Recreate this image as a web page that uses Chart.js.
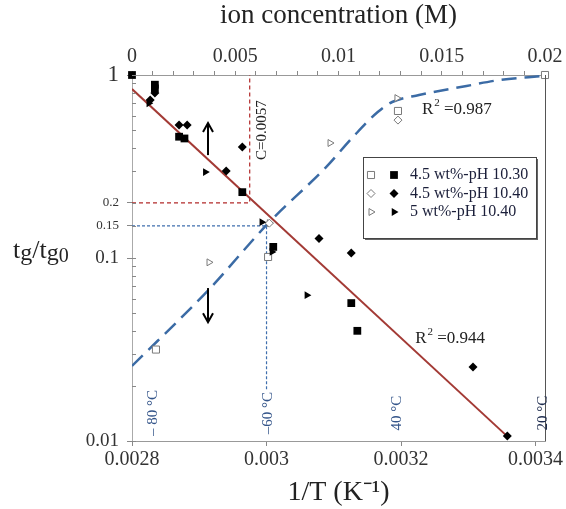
<!DOCTYPE html>
<html>
<head>
<meta charset="utf-8">
<script src="https://cdn.jsdelivr.net/npm/chart.js@4.4.0/dist/chart.umd.min.js"></script>
<style>
html, body { margin: 0; padding: 0; background: #fff; }
#wrap { width: 566px; height: 509px; }
</style>
</head>
<body>
<div id="wrap"><canvas id="chart-tg" width="566" height="509"></canvas></div>
<script>
'use strict';

// filled symbols: tg/tg0 against 1/T (bottom axis)
const invT_1030 = [0.0028, 0.002834, 0.002834, 0.00287, 0.002878, 0.002964, 0.00301, 0.003126, 0.003135];
const ratio_1030 = [1.0, 0.885, 0.845, 0.46, 0.45, 0.229, 0.115, 0.0567, 0.040];
const invT_1040 = [0.002834, 0.002827, 0.00287, 0.002882, 0.002964, 0.00294, 0.003078, 0.003126, 0.003307, 0.003358];
const ratio_1040 = [0.797, 0.73, 0.533, 0.533, 0.404, 0.299, 0.128, 0.1066, 0.0254, 0.01064];
const invT_5wt = [0.002825, 0.002909, 0.002993, 0.003008, 0.00306];
const ratio_5wt = [0.70, 0.295, 0.157, 0.108, 0.0626];

// open symbols: tg/tg0 against ion concentration (top axis)
const conc_1030 = [0.00116, 0.00659, 0.01288, 0.02];
const cRatio_1030 = [0.0316, 0.1013, 0.636, 1.0];
const conc_1040 = [0.00665, 0.01288, 0.02];
const cRatio_1040 = [0.155, 0.567, 1.0];
const conc_5wt = [0.00373, 0.00959, 0.01283, 0.00665, 0.02];
const cRatio_5wt = [0.0947, 0.425, 0.748, 0.155, 1.0];

// fitted curves
const fitInvT = [0.0028, 0.003358];
const fitInvTRatio = [0.838, 0.0106];
const fitConc = [0, 0.0037, 0.0066, 0.0094, 0.0107, 0.0119, 0.0126, 0.0139, 0.0162, 0.0178, 0.0199];
const fitConcRatio = [0.0257, 0.0668, 0.155, 0.314, 0.458, 0.628, 0.712, 0.777, 0.871, 0.939, 0.988];

// critical values marked with guide lines
const critConc = 0.0057;
const critConcRatio = 0.2;
const critInvT = 0.003;
const critInvTRatio = 0.15;

// arrows (1/T, from, to)
const arrowInvT = [0.002913, 0.002913];
const arrowFrom = [0.365, 0.0685];
const arrowTo = [0.547, 0.0446];

// axis ticks
const invTTicks = [0.0028, 0.003, 0.0032, 0.0034];
const invTTickLabels = ['0.0028', '0.003', '0.0032', '0.0034'];
const concTicks = [0, 0.005, 0.01, 0.015, 0.02];
const concTickLabels = ['0', '0.005', '0.01', '0.015', '0.02'];
const ratioTicks = [0.01, 0.1, 0.15, 0.2, 1];
const ratioTickLabels = ['0.01', '0.1', '0.15', '0.2', '1'];

// temperature marks on the 1/T axis
const tempC = [80, 60, 40, 20];
const tempLabels = ['– 80 °C', '–60 °C', '40 °C', '20 °C'];

const legendLabels = ['4.5 wt%-pH 10.30', '4.5 wt%-pH 10.40', '5 wt%-pH 10.40'];
const legendStyles = ['rect', 'rectRot', 'triangle'];

const serif = "'Liberation Serif', 'Times New Roman', serif";

function pts(xs, ys) {
    return xs.map((v, i) => ({ x: v, y: ys[i] }));
}

function filled(label, xs, ys, style, radius) {
    return {
        label, data: pts(xs, ys), xAxisID: 'x', yAxisID: 'y', clip: false,
        pointStyle: style, pointRadius: radius, pointRotation: style === 'triangle' ? 90 : 0,
        backgroundColor: '#000', borderColor: '#000', borderWidth: 0, showLine: false
    };
}

function open(label, xs, ys, style, radius) {
    return {
        label, data: pts(xs, ys), xAxisID: 'x2', yAxisID: 'y', clip: false,
        pointStyle: style, pointRadius: radius, pointRotation: style === 'triangle' ? 90 : 0,
        backgroundColor: '#fff', borderColor: '#7a7a7a', borderWidth: 1, showLine: false
    };
}

function drawArrow(ctx, x, y0, y1) {
    const dir = y1 < y0 ? -1 : 1;
    ctx.beginPath();
    ctx.moveTo(x, y0);
    ctx.lineTo(x, y1 - dir * 2);
    ctx.stroke();
    ctx.beginPath();
    ctx.moveTo(x - 5, y1 - dir * 9);
    ctx.lineTo(x, y1);
    ctx.lineTo(x + 5, y1 - dir * 9);
    ctx.stroke();
}

function drawR2(ctx, x, y, value) {
    ctx.textAlign = 'left';
    ctx.textBaseline = 'alphabetic';
    ctx.font = '17px ' + serif;
    ctx.fillText('R', x, y);
    let w = ctx.measureText('R').width;
    ctx.font = '11px ' + serif;
    ctx.fillText('2', x + w + 1, y - 8);
    w += 1 + ctx.measureText('2').width;
    ctx.font = '17px ' + serif;
    ctx.fillText(' =' + value, x + w, y);
}

const overlayPlugin = {
    id: 'overlay',
    beforeDatasetsDraw(chart) {
        const { ctx, chartArea: a, scales: { x, x2, y } } = chart;
        ctx.save();
        ctx.lineWidth = 1.2;

        // critical concentration guide (red)
        ctx.strokeStyle = '#b22a2a';
        ctx.setLineDash([4, 3]);
        const cx = x2.getPixelForValue(critConc);
        const cy = y.getPixelForValue(critConcRatio);
        ctx.beginPath();
        ctx.moveTo(a.left, cy);
        ctx.lineTo(cx, cy);
        ctx.lineTo(cx, a.top);
        ctx.stroke();

        // critical temperature guide (blue)
        ctx.strokeStyle = '#3f6fae';
        ctx.setLineDash([3, 2]);
        const tx = x.getPixelForValue(critInvT);
        const ty = y.getPixelForValue(critInvTRatio);
        ctx.beginPath();
        ctx.moveTo(a.left, ty);
        ctx.lineTo(tx, ty);
        ctx.lineTo(tx, a.bottom - 50);
        ctx.stroke();
        ctx.restore();
    },
    afterDatasetsDraw(chart) {
        const { ctx, chartArea: a, scales: { x, x2, y } } = chart;
        ctx.save();

        // right frame line
        ctx.strokeStyle = '#555';
        ctx.lineWidth = 1;
        ctx.beginPath();
        ctx.moveTo(a.right + 0.5, a.top);
        ctx.lineTo(a.right + 0.5, a.bottom);
        ctx.stroke();

        // inner tick marks on the log axis
        ctx.strokeStyle = '#888';
        y.ticks.forEach(t => {
            const py = Math.round(y.getPixelForValue(t.value)) + 0.5;
            ctx.beginPath();
            ctx.moveTo(a.left, py);
            ctx.lineTo(a.left + 4, py);
            ctx.stroke();
        });

        // arrows
        ctx.strokeStyle = '#000';
        ctx.lineWidth = 2;
        arrowInvT.forEach((v, i) => {
            drawArrow(ctx, x.getPixelForValue(v), y.getPixelForValue(arrowFrom[i]), y.getPixelForValue(arrowTo[i]));
        });

        // R^2 labels
        ctx.fillStyle = '#222';
        drawR2(ctx, x2.getPixelForValue(0.01404), y.getPixelForValue(0.66) + 6, '0.987');
        drawR2(ctx, x.getPixelForValue(0.003221), y.getPixelForValue(0.037) + 6, '0.944');

        // C=0.0057 label
        ctx.save();
        ctx.translate(x2.getPixelForValue(critConc) + 12, y.getPixelForValue(0.5));
        ctx.rotate(-Math.PI / 2);
        ctx.font = '15px ' + serif;
        ctx.textAlign = 'center';
        ctx.textBaseline = 'middle';
        ctx.fillStyle = '#222';
        ctx.fillText('C=0.0057', 0, 0);
        ctx.restore();

        // temperature labels
        tempC.forEach((t, i) => {
            ctx.save();
            ctx.translate(x.getPixelForValue(1 / (t + 273.15)), a.bottom - 28);
            ctx.rotate(-Math.PI / 2);
            ctx.font = '15px ' + serif;
            ctx.textAlign = 'center';
            ctx.textBaseline = 'middle';
            ctx.fillStyle = i === 3 ? '#1f2d4f' : '#34558a';
            ctx.fillText(tempLabels[i], 0, 0);
            ctx.restore();
        });

        // legend
        const lx = a.left + 231, ly = a.top + 82, lw = 173, lh = 81;
        ctx.fillStyle = '#666';
        ctx.fillRect(lx + 2, ly + 2, lw, lh);
        ctx.fillStyle = '#fff';
        ctx.fillRect(lx, ly, lw, lh);
        ctx.strokeStyle = '#444';
        ctx.lineWidth = 1;
        ctx.strokeRect(lx + 0.5, ly + 0.5, lw, lh);
        legendLabels.forEach((label, i) => {
            const ry = ly + 18 + i * 18.5;
            const style = legendStyles[i];
            const rot = style === 'triangle' ? 90 : 0;
            ctx.fillStyle = '#fff';
            ctx.strokeStyle = '#7a7a7a';
            Chart.helpers.drawPoint(ctx, { pointStyle: style, radius: style === 'rect' ? 5 : 4, rotation: rot, borderWidth: 1 }, lx + 8, ry);
            ctx.fillStyle = '#000';
            ctx.strokeStyle = '#000';
            Chart.helpers.drawPoint(ctx, { pointStyle: style, radius: style === 'rect' ? 5.5 : 4.5, rotation: rot, borderWidth: 0 }, lx + 31, ry);
            ctx.font = '16px ' + serif;
            ctx.textAlign = 'left';
            ctx.textBaseline = 'middle';
            ctx.fillStyle = '#1b1f3a';
            ctx.fillText(label, lx + 47, ry);
        });

        // y axis title  tg/tg0
        ctx.fillStyle = '#222';
        ctx.textAlign = 'left';
        ctx.textBaseline = 'alphabetic';
        let px = 13;
        const base = 258;
        const part = (txt, size, dy) => {
            ctx.font = size + 'px ' + serif;
            ctx.fillText(txt, px, base + dy);
            px += ctx.measureText(txt).width;
        };
        part('t', 26, 0);
        part('g', 24, 2);
        part('/t', 26, 0);
        part('g', 24, 2);
        part('0', 20, 4);

        ctx.restore();
    }
};

const ctx = document.getElementById('chart-tg').getContext('2d');
new Chart(ctx, {
    type: 'scatter',
    data: {
        datasets: [
            filled('4.5 wt%-pH 10.30', invT_1030, ratio_1030, 'rect', 5.5),
            filled('4.5 wt%-pH 10.40', invT_1040, ratio_1040, 'rectRot', 4.5),
            filled('5 wt%-pH 10.40', invT_5wt, ratio_5wt, 'triangle', 4.5),
            open('4.5 wt%-pH 10.30 (C)', conc_1030, cRatio_1030, 'rect', 5),
            open('4.5 wt%-pH 10.40 (C)', conc_1040, cRatio_1040, 'rectRot', 4),
            open('5 wt%-pH 10.40 (C)', conc_5wt, cRatio_5wt, 'triangle', 4),
            {
                label: 'fit 1/T', data: pts(fitInvT, fitInvTRatio), xAxisID: 'x', yAxisID: 'y',
                showLine: true, pointRadius: 0, borderColor: '#a33a35', borderWidth: 2
            },
            {
                label: 'fit C', data: pts(fitConc, fitConcRatio), xAxisID: 'x2', yAxisID: 'y',
                showLine: true, pointRadius: 0, borderColor: '#3b6ba5', borderWidth: 2.5,
                borderDash: [15, 8], cubicInterpolationMode: 'monotone'
            }
        ]
    },
    options: {
        responsive: false,
        animation: false,
        layout: { padding: { left: 0, right: 21, top: 0, bottom: 0 } },
        plugins: { legend: { display: false }, tooltip: { enabled: false } },
        scales: {
            x: {
                type: 'linear', position: 'bottom', min: 0.0028, max: 0.003414,
                afterBuildTicks: s => { s.ticks = invTTicks.map(v => ({ value: v })); },
                afterFit: s => { s.height = 68; s.paddingLeft = 0; s.paddingRight = 0; },
                grid: { drawOnChartArea: false, drawTicks: true, tickLength: 5, tickColor: '#888' },
                border: { color: '#999' },
                ticks: {
                    autoSkip: false, maxRotation: 0, padding: 2, color: '#333',
                    font: { family: serif, size: 20 },
                    callback: (v, i) => invTTickLabels[i]
                },
                title: {
                    display: true, text: '1/T (K⁻¹)', color: '#222',
                    font: { family: serif, size: 28 }, padding: { top: 0, bottom: 0 }
                }
            },
            x2: {
                type: 'linear', position: 'top', min: 0, max: 0.02,
                afterBuildTicks: s => {
                    const t = [];
                    for (let i = 0; i <= 20; i++) t.push({ value: i / 1000 });
                    s.ticks = t;
                },
                afterFit: s => { s.height = 75; s.paddingLeft = 0; s.paddingRight = 0; },
                grid: { drawOnChartArea: false, drawTicks: true, tickLength: 4, tickColor: '#888' },
                border: { color: '#999' },
                ticks: {
                    autoSkip: false, maxRotation: 0, padding: 2, color: '#333',
                    font: { family: serif, size: 20 },
                    callback: v => {
                        const i = concTicks.findIndex(c => Math.abs(c - v) < 1e-9);
                        return i >= 0 ? concTickLabels[i] : '';
                    }
                },
                title: {
                    display: true, text: 'ion concentration (M)', color: '#222',
                    font: { family: serif, size: 27 }, padding: { top: 0, bottom: 0 }
                }
            },
            y: {
                type: 'logarithmic', position: 'left', min: 0.01, max: 1,
                afterBuildTicks: s => {
                    const t = [];
                    [0.01, 0.1].forEach(d => {
                        for (let k = 1; k < 10; k++) t.push({ value: +(d * k).toPrecision(3) });
                    });
                    t.push({ value: 0.15 }, { value: 1 });
                    t.sort((a, b) => a.value - b.value);
                    s.ticks = t;
                },
                afterFit: s => { s.width = 132; },
                grid: {
                    drawOnChartArea: false, drawTicks: true, tickLength: 5,
                    tickColor: c => (c.tick && ratioTicks.includes(c.tick.value) ? '#888' : 'rgba(0,0,0,0)')
                },
                border: { color: '#aaa' },
                ticks: {
                    autoSkip: false, padding: 8, color: '#333',
                    font: c => {
                        const v = c.tick ? c.tick.value : 0;
                        if (v === 1) return { family: serif, size: 23 };
                        if (v === 0.15 || v === 0.2) return { family: serif, size: 13 };
                        return { family: serif, size: 19 };
                    },
                    callback: v => {
                        const i = ratioTicks.indexOf(v);
                        return i >= 0 ? ratioTickLabels[i] : '';
                    }
                }
            }
        }
    },
    plugins: [overlayPlugin]
});
</script>
</body>
</html>
